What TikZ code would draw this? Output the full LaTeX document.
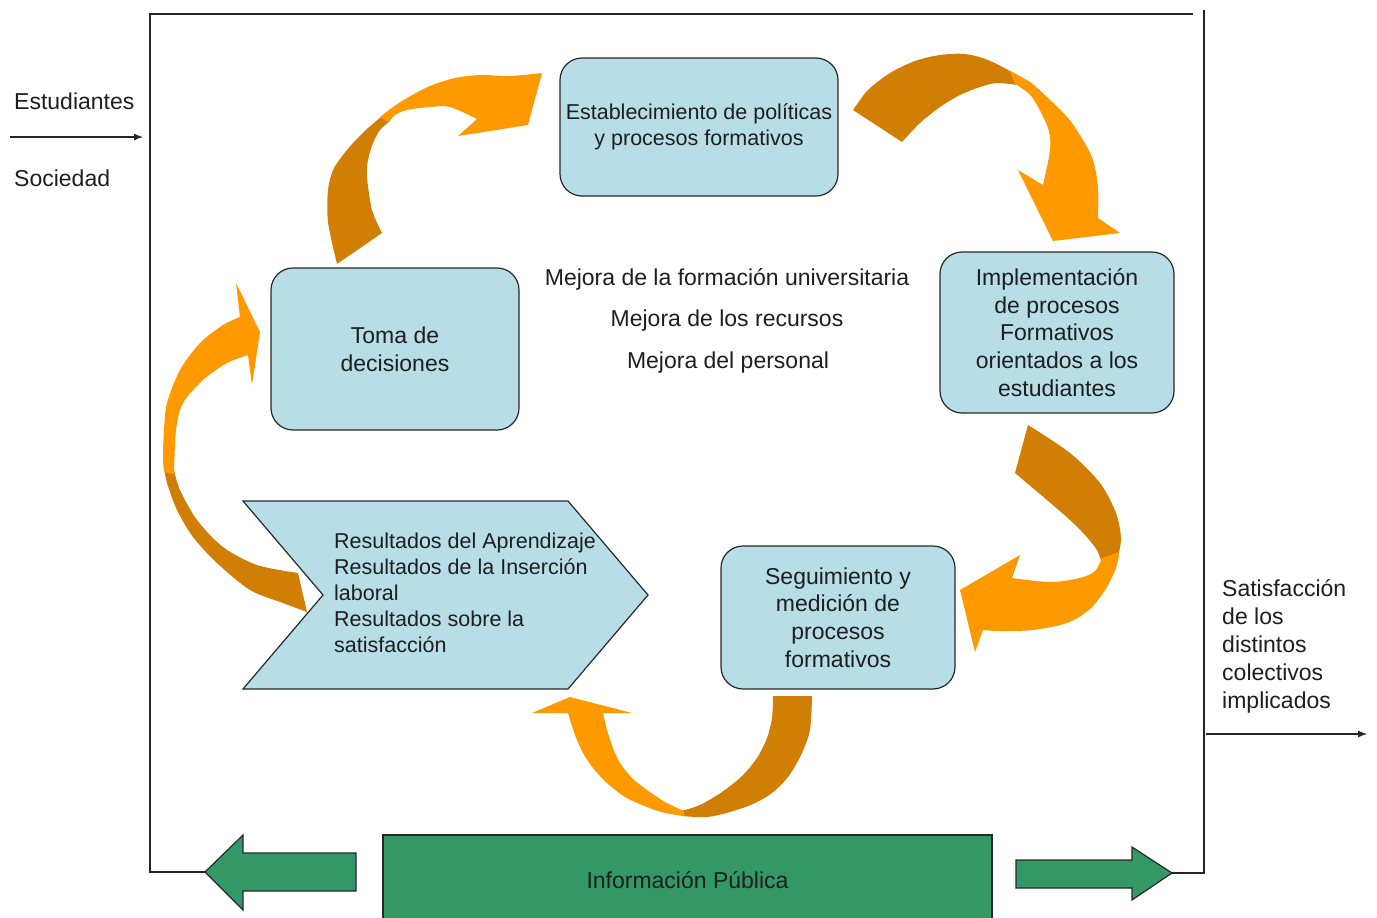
\documentclass[tikz,border=0pt]{standalone}
\usepackage{fontspec}
\setmainfont{Liberation Sans}
\usetikzlibrary{arrows.meta}
\definecolor{boxblue}{RGB}{183,221,230}
\definecolor{pubgreen}{RGB}{52,152,102}
\definecolor{orbright}{RGB}{255,153,0}
\definecolor{ordark}{RGB}{208,126,4}
\definecolor{txt}{RGB}{30,30,30}
\definecolor{edge}{RGB}{40,40,40}
\begin{document}
\begin{tikzpicture}[x=1pt,y=-1pt,
  procbox/.style={draw=edge, line width=1.2pt, fill=boxblue, rounded corners=22pt,
    align=center, inner sep=0pt, text=txt, font=\fontsize{23}{27.6}\selectfont},
  lbl/.style={text=txt, inner sep=0pt, font=\fontsize{23}{28}\selectfont},
  framel/.style={draw=black!85, line width=1.1pt},
  garrow/.style={fill=pubgreen, draw=edge, line width=1.2pt},
  odark/.style={fill=ordark},
  obright/.style={fill=orbright}]
\useasboundingbox (0,0) rectangle (1377,918);

% ---------- frame ----------
\coordinate (ltip) at (205,872);
\coordinate (rtip) at (1172,873);
\coordinate (inS) at (10,137);
\coordinate (inE) at (143,137);
\coordinate (outS) at (1206,734);
\coordinate (outE) at (1367,734);
\draw[framel] (ltip) -| (150,14) -- (1193,14);
\draw[framel] (rtip) -| (1204,10);
\draw[framel, -{Latex[length=9pt,width=7pt]}] (inS) -- (inE);
\draw[framel, -{Latex[length=9pt,width=7pt]}] (outS) -- (outE);

\node[lbl, anchor=west] (estud) at (14,101) {Estudiantes};
\node[lbl, anchor=west] (soc) at (14,178) {Sociedad};
\node[lbl, anchor=west, align=left] (satis) at (1222,646)
  {Satisfacción\\de los\\distintos\\colectivos\\implicados};

% ---------- process boxes ----------
\node[procbox, minimum width=278pt, minimum height=138pt,
  font=\fontsize{21.5}{26}\selectfont] (est) at (699,127)
  {Establecimiento de políticas\\y procesos formativos};
\node[procbox, minimum width=248pt, minimum height=162pt] (toma) at (395,349)
  {Toma de\\decisiones};
\node[procbox, minimum width=234pt, minimum height=161pt] (impl) at (1057,332.5)
  {Implementación\\de procesos\\Formativos\\orientados a los\\estudiantes};
\node[procbox, minimum width=234pt, minimum height=143pt] (seg) at (838,617.5)
  {Seguimiento y\\medición de\\procesos\\formativos};

% chevron
\coordinate (chA) at (243,501);
\coordinate (chB) at (568,501);
\coordinate (chC) at (648,595);
\coordinate (chD) at (568,689);
\coordinate (chE) at (243,689);
\coordinate (chF) at (323,595);
\draw[draw=edge, line width=1.2pt, fill=boxblue] (chA) -- (chB) -- (chC) -- (chD) -- (chE) -- (chF) -- cycle;
\node[lbl, anchor=west, align=left, font=\fontsize{21.5}{26}\selectfont] (res) at (334,593)
  {Resultados del Aprendizaje\\Resultados de la Inserción\\laboral\\Resultados sobre la\\satisfacción};

% central text
\node[lbl] (m1) at (727,279) {Mejora de la formación universitaria};
\node[lbl] (m2) at (727,321) {Mejora de los recursos};
\node[lbl] (m3) at (728,363) {Mejora del personal};

% ---------- orange curved arrows ----------
% A: Toma -> Establecimiento
\fill[odark] plot[smooth] coordinates {(337,264) (328,222) (328,190) (333,170) (343,155) (353,143) (367,129) (381,117)}
  -- plot[smooth] coordinates {(390,121) (380,130) (373,143) (368,160) (367,177) (372,210) (382,233)} -- cycle;
\fill[obright] plot[smooth] coordinates {(380,117) (393,107) (407,98) (430,86) (455,78) (480,75) (510,76) (542,73)}
  -- (528,125) -- (458,136)
  -- plot[smooth] coordinates {(477,119) (450,107) (430,107) (407,110) (395,115) (389,122)} -- cycle;

% B: Establecimiento -> Implementacion
\fill[odark] plot[smooth] coordinates {(853,110) (868,90) (890,73) (915,61) (940,55) (965,54) (988,60) (1012,72)}
  -- plot[smooth] coordinates {(1017,85) (997,83) (980,87) (960,95) (940,107) (920,123) (902,142)} -- cycle;
\fill[obright] plot[smooth] coordinates {(1010,71) (1030,82) (1047,97) (1068,118) (1083,140) (1093,160) (1098,187) (1098,218)}
  -- (1120,233) -- (1053,241) -- (1018,170)
  -- plot[smooth] coordinates {(1043,185) (1050,150) (1048,128) (1032,97) (1015,84)} -- cycle;

% D: Implementacion -> Seguimiento
\fill[odark] plot[smooth] coordinates {(1028,425) (1070,453) (1100,483) (1116,513) (1121,538) (1118,557)}
  -- plot[smooth] coordinates {(1101,561) (1097,550) (1085,535) (1070,520) (1047,500) (1015,473)} -- cycle;
\fill[obright] plot[smooth] coordinates {(1119,552) (1117,565) (1107,587) (1090,609) (1067,623) (1033,630) (1000,631) (983,630)}
  -- (975,652) -- (960,590) -- (1020,555)
  -- plot[smooth] coordinates {(1012,578) (1050,582) (1080,578) (1095,571) (1102,558)} -- cycle;

% E: Seguimiento -> Resultados
\fill[odark] plot[smooth] coordinates {(812,696) (810,730) (801,755) (788,777) (772,793) (753,804) (730,812) (707,817) (681,816)}
  -- plot[smooth] coordinates {(681,811) (700,805) (722,792) (742,776) (757,758) (767,738) (772,718) (773,696)} -- cycle;
\fill[obright] plot[smooth] coordinates {(684,816) (665,813) (647,807) (625,797) (607,783) (593,768) (583,753) (575,735) (568,713)}
  -- (532,713) -- (570,697) -- (632,713)
  -- plot[smooth] coordinates {(603,713) (607,730) (613,748) (620,763) (632,778) (647,790) (665,802) (684,811)} -- cycle;

% C: Resultados -> Toma
\fill[odark] plot[smooth] coordinates {(164,468) (167,483) (177,510) (193,537) (217,563) (250,590) (283,603) (307,612)}
  -- plot[smooth] coordinates {(298,573) (257,565) (223,547) (197,520) (180,490) (174,470)} -- cycle;
\fill[obright] plot[smooth] coordinates {(164,472) (163,457) (164,430) (167,403) (180,370) (200,343) (223,325) (240,317)}
  -- (236,283) -- (260,332) -- (252,385)
  -- plot[smooth] coordinates {(248,355) (227,363) (203,380) (183,403) (176,430) (174,474)} -- cycle;

% ---------- public information ----------
\node[garrow, minimum width=609pt, minimum height=90pt, inner sep=0pt, text=txt,
  font=\fontsize{23}{28}\selectfont] (pub) at (687.5,880) {Información Pública};
\draw[garrow] (ltip) -- (243,835) -- (243,853) -- (356,853) -- (356,891) -- (243,891) -- (243,910) -- cycle;
\draw[garrow] (rtip) -- (1132,847) -- (1132,860) -- (1016,860) -- (1016,888) -- (1132,888) -- (1132,900) -- cycle;
\end{tikzpicture}
\end{document}
